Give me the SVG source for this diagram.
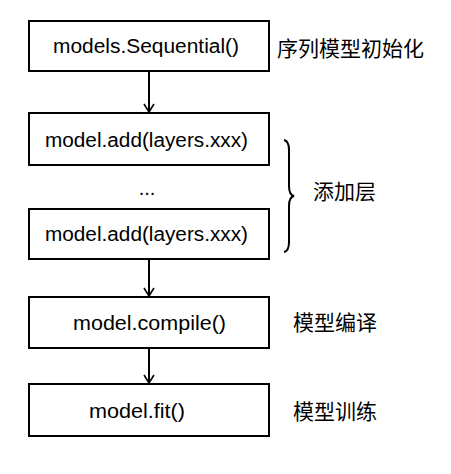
<svg xmlns="http://www.w3.org/2000/svg" width="451" height="474" viewBox="0 0 451 474">
<defs>
<marker id="arr" viewBox="0 0 12 12" refX="10" refY="6" markerWidth="12" markerHeight="12" markerUnits="userSpaceOnUse" orient="auto">
<path d="M2,1 L10,6 L2,11" fill="none" stroke="#000" stroke-width="1.6"/>
</marker>
<style>
.box{fill:#fff;stroke:#000;stroke-width:2}
.t{font-family:"Liberation Sans","DejaVu Sans",sans-serif;font-size:20px;fill:#000}
.c{font-family:"Noto Sans CJK SC",sans-serif;font-size:21px;fill:#000}
.ln{stroke:#000;stroke-width:2;fill:none}
</style>
</defs>
<rect width="451" height="474" fill="#fff"/>
<g id="n1"><rect class="box" x="29" y="21" width="240" height="50"/><text class="t" x="53" y="53" textLength="186" lengthAdjust="spacingAndGlyphs">models.Sequential()</text></g>
<g id="n2"><rect class="box" x="29" y="113" width="240" height="52"/><text class="t" x="45" y="147" textLength="203" lengthAdjust="spacingAndGlyphs">model.add(layers.xxx)</text></g>
<g id="dots"><text class="t" x="147" y="195" text-anchor="middle">...</text></g>
<g id="n3"><rect class="box" x="29" y="209" width="240" height="50"/><text class="t" x="45" y="241" textLength="203" lengthAdjust="spacingAndGlyphs">model.add(layers.xxx)</text></g>
<g id="n4"><rect class="box" x="29" y="297" width="240" height="51"/><text class="t" x="73" y="330" textLength="153" lengthAdjust="spacingAndGlyphs">model.compile()</text></g>
<g id="n5"><rect class="box" x="29" y="384" width="240" height="52"/><text class="t" x="89" y="418" textLength="96" lengthAdjust="spacingAndGlyphs">model.fit()</text></g>
<g id="labels">
<text class="c" x="277" y="56">序列模型初始化</text>
<text class="c" x="313" y="199">添加层</text>
<text class="c" x="293" y="330">模型编译</text>
<text class="c" x="293" y="419">模型训练</text>
</g>
<g id="brace"><path class="ln" stroke-width="1.6" d="M284,140 Q289,141 289,150 L289,186 Q289,195 294,196 Q289,197 289,206 L289,242 Q289,251 284,252"/></g>
<g id="connectors">
<line class="ln" x1="149" y1="71" x2="149" y2="112" marker-end="url(#arr)"/>
<line class="ln" x1="149" y1="259" x2="149" y2="296" marker-end="url(#arr)"/>
<line class="ln" x1="149" y1="348" x2="149" y2="383" marker-end="url(#arr)"/>
</g>
</svg>
